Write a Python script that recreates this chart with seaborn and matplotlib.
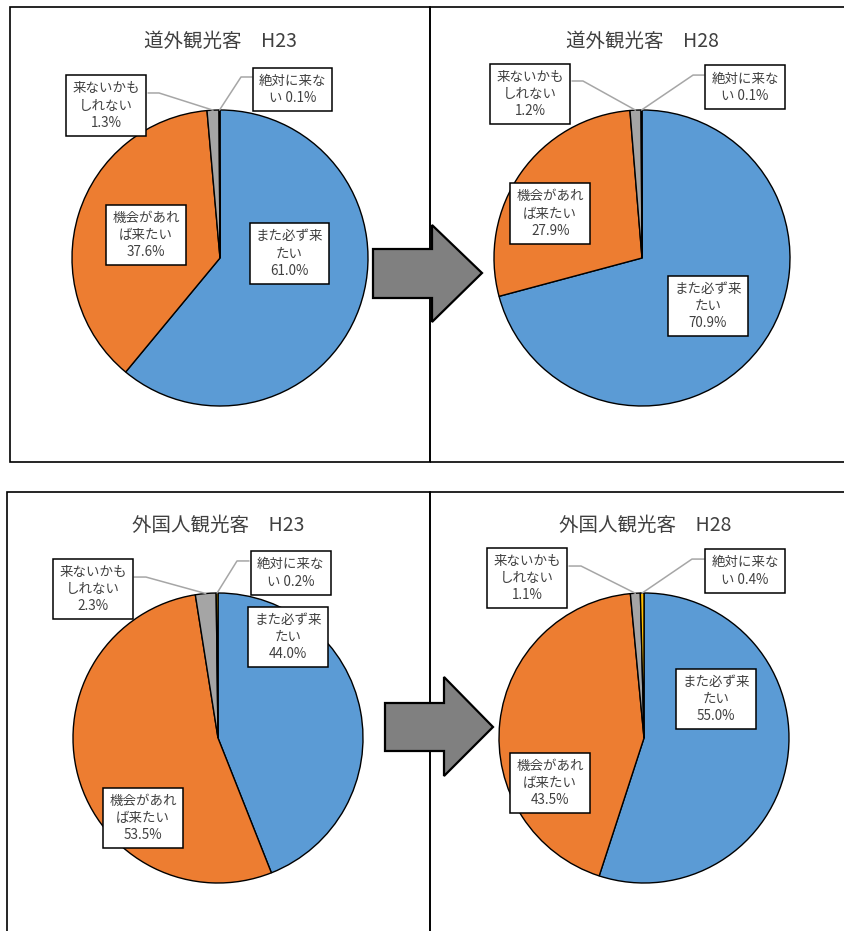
import numpy as np
import matplotlib
matplotlib.use("Agg")
import matplotlib.pyplot as plt
from matplotlib.patches import Rectangle, Polygon
from matplotlib.lines import Line2D
import seaborn as sns

# ---------------- data ----------------
categories = ["また必ず来たい", "機会があれば来たい", "来ないかもしれない", "絶対に来ない"]
label_texts = ["また必ず来\nたい", "機会があれ\nば来たい", "来ないかも\nしれない", "絶対に来な\nい"]
titles = ["道外観光客　H23", "道外観光客　H28", "外国人観光客　H23", "外国人観光客　H28"]
vals_dogai_h23 = [61.0, 37.6, 1.3, 0.1]
vals_dogai_h28 = [70.9, 27.9, 1.2, 0.1]
vals_gaikoku_h23 = [44.0, 53.5, 2.3, 0.2]
vals_gaikoku_h28 = [55.0, 43.5, 1.1, 0.4]
all_vals = [vals_dogai_h23, vals_dogai_h28, vals_gaikoku_h23, vals_gaikoku_h28]

colors = sns.color_palette(["#5B9BD5", "#ED7D31", "#A5A5A5", "#FFC000"])

sns.set_theme(style="white")
plt.rcParams['font.family'] = ['Noto Sans CJK JP', 'DejaVu Sans']

W, H = 845, 931
fig = plt.figure(figsize=(W / 100, H / 100), dpi=100)
fig.patch.set_facecolor("white")


def fx(x):
    return x / W


def fy(y):
    return 1 - y / H


# ---------------- layout (pixels) ----------------
pie_geo = [(220, 258, 148), (642, 258, 148), (218, 738, 145), (644, 738, 145)]
title_pos = [(220, 41), (642, 41), (218, 525), (645, 525)]
label_pos = [
    [(0.47, 0.03), (-0.50, 0.155), (-0.77, 1.03), (0.49, 1.14)],
    [(0.446, -0.324), (-0.62, 0.30), (-0.757, 1.108), (0.696, 1.155)],
    [(0.483, 0.697), (-0.517, -0.552), (-0.862, 1.028), (0.503, 1.138)],
    [(0.497, 0.269), (-0.648, -0.31), (-0.807, 1.103), (0.697, 1.152)],
]
leader_anchor = [
    [(-0.486, -0.412, 1.115), (0.216, 0.142, 1.223)],
    [(-0.473, -0.399, 1.196), (0.419, 0.345, 1.236)],
    [(-0.579, -0.497, 1.110), (0.214, 0.131, 1.221)],
    [(-0.517, -0.434, 1.186), (0.414, 0.331, 1.234)],
]

text_color = "#404040"

for i, vals in enumerate(all_vals):
    cx, cy, r = pie_geo[i]
    ax = fig.add_axes([fx(cx - r), fy(cy + r), 2 * r / W, 2 * r / H])
    ax.pie(vals, colors=colors, startangle=90, counterclock=False,
           wedgeprops=dict(edgecolor="black", linewidth=1.0))
    ax.set_xlim(-1, 1)
    ax.set_ylim(-1, 1)
    ax.set_aspect("auto")
    ax.axis("off")

    total = sum(vals)
    cum = np.cumsum([0] + list(vals))
    for j, v in enumerate(vals):
        txt = f"{label_texts[j]}\n{v:.1f}%" if j < 3 else f"{label_texts[j]} {v:.1f}%"
        lx, ly = label_pos[i][j]
        ax.text(lx, ly, txt, ha="center", va="center", multialignment="center",
                fontsize=9.7, color=text_color, linespacing=1.3, zorder=5,
                bbox=dict(boxstyle="square,pad=0.45", facecolor="white",
                          edgecolor="black", linewidth=1.1))
    for k, j in enumerate([2, 3]):
        mid = (cum[j] + vals[j] / 2) / total * 360.0
        ang = np.deg2rad(90 - mid)
        wx, wy = np.cos(ang), np.sin(ang)
        bx, ex, by = leader_anchor[i][k]
        ax.add_line(Line2D([bx, ex, wx], [by, by, wy], color="#A6A6A6",
                           linewidth=1.1, clip_on=False, zorder=4))

    tx, ty = title_pos[i]
    fig.text(fx(tx), fy(ty), titles[i], ha="center", va="center",
             fontsize=14, color=text_color)

# ---------------- panel borders ----------------
panels = [(10, 7, 430, 462), (430, 7, 860, 462), (7, 492, 430, 950), (430, 492, 860, 950)]
for (x0, y0, x1, y1) in panels:
    fig.patches.append(Rectangle((fx(x0), fy(y1)), fx(x1) - fx(x0), fy(y0) - fy(y1),
                                 transform=fig.transFigure, fill=False,
                                 edgecolor="black", linewidth=1.2, zorder=1))

# ---------------- arrows ----------------
def arrow(x0, xn, xt, yb0, yb1, yh0, yh1, ytip):
    pts = [(x0, yb0), (xn, yb0), (xn, yh0), (xt, ytip), (xn, yh1), (xn, yb1), (x0, yb1)]
    return Polygon([(fx(a), fy(b)) for a, b in pts], closed=True,
                   transform=fig.transFigure, facecolor="#808080",
                   edgecolor="black", linewidth=1.6, zorder=3)

fig.patches.append(arrow(373, 432, 482, 249, 298, 225, 322, 273))
fig.patches.append(arrow(385, 444, 493, 703, 751, 677, 776, 727))

fig.savefig("out.png", dpi=100, facecolor="white")
